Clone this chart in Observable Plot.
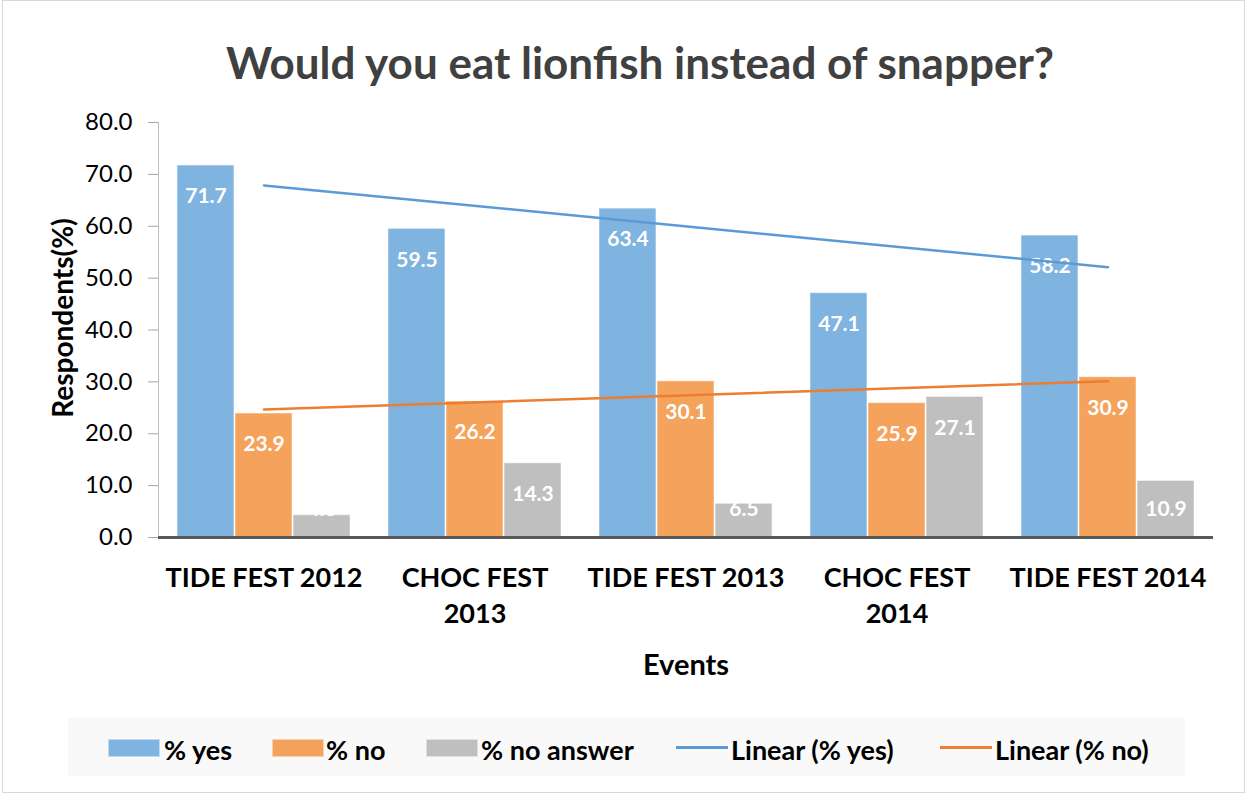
<!DOCTYPE html>
<html>
<head>
<meta charset="utf-8">
<script src="https://cdn.jsdelivr.net/npm/d3@7"></script>
<script src="https://cdn.jsdelivr.net/npm/@observablehq/plot@0.6"></script>
<style>
  html, body { margin: 0; padding: 0; background: #fff; }
  body { width: 1249px; height: 796px; position: relative; overflow: hidden; font-family: Lato, "Open Sans", sans-serif; }
  #frame { position: absolute; left: 2px; top: 0px; width: 1243px; height: 793px; border: 1px solid #d9d9d9; box-sizing: border-box; }
  #chart { position: absolute; left: 0; top: 0; }
  .t { position: absolute; white-space: nowrap; font-weight: bold; }
  #title { left: 640px; top: 62px; transform: translate(-50%, -50%); font-size: 44px; color: #404040; }
  #ytitle { left: 62px; top: 318px; transform: translate(-50%, -50%) rotate(-90deg); font-size: 28px; color: #000; }
  #xtitle { left: 686px; top: 663px; transform: translate(-50%, -50%); font-size: 29px; color: #000; }
  #legend { position: absolute; left: 68px; top: 718px; width: 1117px; height: 58px; background: #f9f9f9; }
  .sw { position: absolute; top: 739px; height: 18px; width: 52px; box-sizing: border-box; }
  .ln { position: absolute; top: 746px; height: 3px; width: 52px; }
  .lt { position: absolute; top: 749px; transform: translateY(-50%); font-size: 27px; font-weight: bold; color: #000; white-space: nowrap; }
</style>
</head>
<body>
<div id="frame"></div>
<div id="legend"></div>
<div id="chart"></div>
<div id="title" class="t">Would you eat lionfish instead of snapper?</div>
<div id="ytitle" class="t">Respondents(%)</div>
<div id="xtitle" class="t">Events</div>
<script>
const categories = ["TIDE FEST 2012", "CHOC FEST\n2013", "TIDE FEST 2013", "CHOC FEST\n2014", "TIDE FEST 2014"];
const seriesNames = ["% yes", "% no", "% no answer"];
const yesValues = [71.7, 59.5, 63.4, 47.1, 58.2];
const noValues = [23.9, 26.2, 30.1, 25.9, 30.9];
const noAnswerValues = [4.3, 14.3, 6.5, 27.1, 10.9];
const yTicks = [0, 10, 20, 30, 40, 50, 60, 70, 80];

const barColors = ["#7fb3e0", "#f4a25c", "#bfbfbf"];
const lineColors = ["#5b9bd5", "#ed7d31"];
const offsets = [-0.275, 0, 0.275];
const halfW = 0.135;

const seriesValues = [yesValues, noValues, noAnswerValues];
const rows = [];
seriesValues.forEach((vals, s) => vals.forEach((v, i) => rows.push({i, s, series: seriesNames[s], value: v})));
const yesRows = rows.filter(d => d.s === 0);
const noRows = rows.filter(d => d.s === 1);

const plot = Plot.plot({
  width: 1249,
  height: 700,
  marginLeft: 158,
  marginRight: 36,
  marginTop: 122,
  marginBottom: 163,
  style: {background: "transparent", fontFamily: "Lato, 'Open Sans', sans-serif"},
  x: {type: "linear", domain: [-0.5, 4.5], axis: null, label: null},
  y: {domain: [0, 80], axis: null, label: null},
  marks: [
    Plot.ruleX([-0.5], {y1: 0, y2: 80, stroke: "#bfbfbf", strokeWidth: 1}),
    Plot.axisY({ticks: yTicks, tickFormat: d => d.toFixed(1), tickSize: 10, tickPadding: 16, stroke: "#a6a6a6", fill: "#000", fontSize: 24, label: null}),
    Plot.axisX({ticks: [0, 1, 2, 3, 4], tickFormat: i => categories[i], tickSize: 0, tickPadding: 24, fontSize: 27, fontWeight: "bold", lineHeight: 1.33, fill: "#000", label: null}),
    Plot.rectY(rows, {
      x1: d => d.i + offsets[d.s] - halfW,
      x2: d => d.i + offsets[d.s] + halfW,
      y1: 0, y2: "value",
      fill: d => barColors[d.s],
      stroke: "#ffffff", strokeOpacity: 0.5, strokeWidth: 1
    }),
    Plot.ruleY([0], {x1: -0.5, x2: 4.5, stroke: "#595959", strokeWidth: 3}),
    Plot.text(rows, {
      x: d => d.i + offsets[d.s],
      y: d => Math.max(d.value - 6, 5.4),
      text: d => d.value.toFixed(1),
      fill: "white", fontSize: 21, fontWeight: "bold"
    }),
    Plot.linearRegressionY(yesRows, {x: "i", y: "value", stroke: lineColors[0], strokeWidth: 2.5, ci: 0}),
    Plot.linearRegressionY(noRows, {x: "i", y: "value", stroke: lineColors[1], strokeWidth: 2.5, ci: 0})
  ]
});
document.getElementById("chart").appendChild(plot);

// legend
const legendItems = [
  {label: "% yes", kind: "sw", color: barColors[0], x: 108, tx: 164},
  {label: "% no", kind: "sw", color: barColors[1], x: 272, tx: 326},
  {label: "% no answer", kind: "sw", color: barColors[2], x: 426, tx: 481},
  {label: "Linear (% yes)", kind: "ln", color: lineColors[0], x: 676, tx: 731},
  {label: "Linear (% no)", kind: "ln", color: lineColors[1], x: 940, tx: 995}
];
for (const it of legendItems) {
  const s = document.createElement("div");
  s.className = it.kind;
  s.style.left = it.x + "px";
  s.style.background = it.color;
  if (it.kind === "sw") s.style.border = "1px solid rgba(255,255,255,0.5)";
  document.body.appendChild(s);
  const t = document.createElement("div");
  t.className = "lt";
  t.style.left = it.tx + "px";
  t.textContent = it.label;
  document.body.appendChild(t);
}
</script>
</body>
</html>
